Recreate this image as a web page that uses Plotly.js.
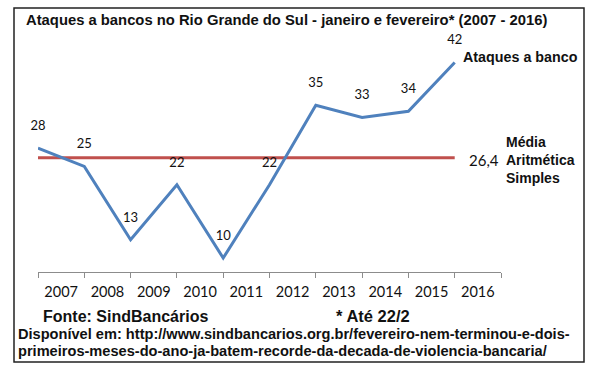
<!DOCTYPE html>
<html>
<head>
<meta charset="utf-8">
<script src="https://cdn.plot.ly/plotly-3.0.1.min.js"></script>
<style>
  html, body { margin: 0; padding: 0; background: #fff; }
  #chart { width: 595px; height: 366px; }
</style>
</head>
<body>
<div id="chart"></div>
<script>
// ---- Data ----
const years = [2007, 2008, 2009, 2010, 2011, 2012, 2013, 2014, 2015, 2016];
const ataques = [28, 25, 13, 22, 10, 22, 35, 33, 34, 42];
const media = 26.4;
const mediaLabel = "26,4";
const seriesName = "Ataques a banco";
const mediaName = "Média<br>Aritmética<br>Simples";
const titleText = "Ataques a bancos no Rio Grande do Sul - janeiro e fevereiro* (2007 - 2016)";
const fonteText = "Fonte: SindBancários";
const notaText = "* Até 22/2";
const disponivelLine1 = "Disponível em: http://www.sindbancarios.org.br/fevereiro-nem-terminou-e-dois-";
const disponivelLine2 = "primeiros-meses-do-ano-ja-batem-recorde-da-decada-de-violencia-bancaria/";

// labels sit between the tick marks (tick marks at the data points)
const labelVals = years.map(y => y + 0.5);
const labelText = years.map(String);

// ---- Layout geometry ----
const W = 595, H = 366;
const M = { l: 38, r: 94, t: 20, b: 94 };
const plotW = W - M.l - M.r, plotH = H - M.t - M.b;
const PX = px => (px - M.l) / plotW;
const PY = py => (H - M.b - py) / plotH;

const BLUE = "#4F81BD";
const RED = "#C0504D";
const TXT = "#111111";
const boldFont = "Liberation Sans, Arial, sans-serif";
const lblFont = "Lato, Open Sans, sans-serif";

const traces = [
  {
    x: years,
    y: years.map(() => media),
    type: "scatter",
    mode: "lines",
    line: { color: RED, width: 3 },
    hoverinfo: "skip",
    showlegend: false
  },
  {
    x: years,
    y: ataques,
    type: "scatter",
    mode: "lines+markers+text",
    line: { color: BLUE, width: 3 },
    marker: { size: 22, color: "rgba(0,0,0,0)" },
    text: ataques.map(String),
    textposition: "top center",
    textfont: { family: lblFont, size: 13, color: TXT },
    cliponaxis: false,
    showlegend: false
  }
];

const layout = {
  width: W,
  height: H,
  margin: M,
  paper_bgcolor: "#ffffff",
  plot_bgcolor: "#ffffff",
  showlegend: false,
  title: {
    text: "<b>" + titleText + "</b>",
    font: { family: boldFont, size: 14.8, color: TXT },
    xref: "container", yref: "container",
    x: 26 / W, xanchor: "left",
    y: 1 - 20 / H, yanchor: "middle"
  },
  xaxis: {
    range: [years[0], years[years.length - 1] + 1],
    tickmode: "array",
    tickvals: labelVals,
    ticktext: labelText,
    ticks: "outside",
    ticklen: 7,
    tickcolor: "rgba(0,0,0,0)",
    minor: {
      tickmode: "linear",
      tick0: years[0],
      dtick: 1,
      ticks: "outside",
      ticklen: 5,
      tickcolor: "#8c8c8c",
      tickwidth: 1,
      showgrid: false
    },
    showline: true,
    linecolor: "#8c8c8c",
    linewidth: 1,
    showgrid: false,
    zeroline: false,
    tickfont: { family: lblFont, size: 14.5, color: TXT },
    fixedrange: true
  },
  yaxis: {
    range: [7.71, 48.95],
    visible: false,
    showgrid: false,
    zeroline: false,
    fixedrange: true
  },
  shapes: [
    {
      type: "rect", xref: "paper", yref: "paper",
      x0: PX(14), x1: PX(584), y0: PY(362), y1: PY(8),
      line: { color: "#222222", width: 1.5 },
      fillcolor: "rgba(0,0,0,0)"
    }
  ],
  annotations: [
    {
      x: years[years.length - 1], y: ataques[ataques.length - 1],
      xref: "x", yref: "y",
      text: "<b>" + seriesName + "</b>",
      showarrow: false, xanchor: "left", yanchor: "middle",
      xshift: 6, yshift: 5,
      font: { family: boldFont, size: 14.3, color: TXT }
    },
    {
      x: years[years.length - 1], y: media,
      xref: "x", yref: "y",
      text: mediaLabel,
      showarrow: false, xanchor: "left", yanchor: "middle",
      xshift: 12, yshift: -2,
      font: { family: lblFont, size: 15, color: TXT }
    },
    {
      x: years[years.length - 1], y: media,
      xref: "x", yref: "y",
      text: "<b>" + mediaName + "</b>",
      showarrow: false, xanchor: "left", yanchor: "middle", align: "left",
      xshift: 49, yshift: -2,
      font: { family: boldFont, size: 14, color: TXT }
    },
    {
      x: PX(41), y: PY(316), xref: "paper", yref: "paper",
      text: "<b>" + fonteText + "</b>",
      showarrow: false, xanchor: "left", yanchor: "middle",
      font: { family: boldFont, size: 16, color: TXT }
    },
    {
      x: PX(334), y: PY(316), xref: "paper", yref: "paper",
      text: "<b>" + notaText + "</b>",
      showarrow: false, xanchor: "left", yanchor: "middle",
      font: { family: boldFont, size: 16.5, color: TXT }
    },
    {
      x: PX(16), y: PY(334), xref: "paper", yref: "paper",
      text: "<b>" + disponivelLine1 + "</b>",
      showarrow: false, xanchor: "left", yanchor: "middle",
      font: { family: boldFont, size: 14.6, color: TXT }
    },
    {
      x: PX(16), y: PY(351), xref: "paper", yref: "paper",
      text: "<b>" + disponivelLine2 + "</b>",
      showarrow: false, xanchor: "left", yanchor: "middle",
      font: { family: boldFont, size: 14.6, color: TXT }
    }
  ]
};

Plotly.newPlot("chart", traces, layout, { displayModeBar: false, staticPlot: true });
</script>
</body>
</html>
